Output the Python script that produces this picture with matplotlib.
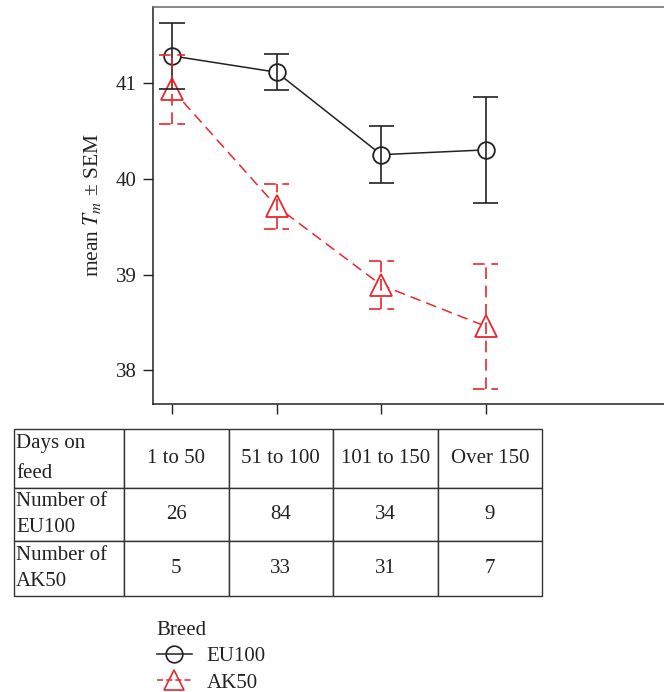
import numpy as np
import matplotlib
matplotlib.use("Agg")
import matplotlib.pyplot as plt
from matplotlib.lines import Line2D

plt.rcParams['font.family'] = ['Liberation Serif', 'DejaVu Serif']
plt.rcParams['mathtext.fontset'] = 'stix'

# data
days = ["1 to 50", "51 to 100", "101 to 150", "Over 150"]
eu_mean = [41.28, 41.11, 40.25, 40.30]
eu_sem = [0.34, 0.19, 0.30, 0.55]
ak_mean = [40.93, 39.71, 38.89, 38.46]
ak_sem = [0.36, 0.23, 0.25, 0.65]
eu_n = [26, 84, 34, 9]
ak_n = [5, 33, 31, 7]
breeds = ["EU100", "AK50"]

RED = '#e8282e'
DARK = '#222222'
W, H = 664, 692

fig = plt.figure(figsize=(W / 100, H / 100), dpi=100)
ax = fig.add_axes([153 / W, 1 - 404 / H, (672 - 153) / W, (404 - 7) / H])

x = np.arange(1, len(days) + 1)
cap = 0.12


def draw_series(mean, sem, color, marker, ms, ls):
    mean = np.array(mean)
    sem = np.array(sem)
    lo, hi = mean - sem, mean + sem
    ax.plot(x, mean, color=color, lw=1.1, linestyle=ls, zorder=2)
    ax.plot(x, mean, linestyle='none', marker=marker, ms=ms, mfc='white',
            mec=color, mew=1.3, zorder=3)
    ax.vlines(x, lo, hi, color=color, lw=1.2, linestyles=ls, zorder=4)
    ax.hlines(lo, x - cap, x + cap, color=color, lw=1.2, linestyles=ls, zorder=4)
    ax.hlines(hi, x - cap, x + cap, color=color, lw=1.2, linestyles=ls, zorder=4)


draw_series(eu_mean, eu_sem, DARK, 'o', 12, '-')
draw_series(ak_mean, ak_sem, RED, '^', 16, (0, (7, 4)))

ax.set_xlim(0.818, 5.78)
ax.set_ylim(37.65, 41.79)
ax.set_xticks(x)
ax.set_xticklabels([])
ax.set_yticks([38, 39, 40, 41])
ax.tick_params(direction='out', length=7, width=1, colors=DARK, labelsize=15,
               pad=5)
ax.set_ylabel(r"mean $T_m$ ± SEM", fontsize=15.5, color=DARK, labelpad=9)
for s in ['left', 'bottom']:
    ax.spines[s].set_color(DARK)
for s in ['top', 'right']:
    ax.spines[s].set_color('#666666')
for s in ax.spines.values():
    s.set_linewidth(1.1)

# table with sample counts
tax = fig.add_axes([14 / W, 1 - 596 / H, (542 - 14) / W, (596 - 429) / H])
tax.axis('off')
rows = [["Days on\nfeed"] + days,
        ["Number of\n" + breeds[0]] + [str(v) for v in eu_n],
        ["Number of\n" + breeds[1]] + [str(v) for v in ak_n]]
col_w = [110, 104.5, 104.5, 104.5, 104.5]
tbl = tax.table(cellText=rows, colWidths=[c / sum(col_w) for c in col_w],
                cellLoc='center', bbox=[0, 0, 1, 1])
tbl.auto_set_font_size(False)
row_h = [59, 53, 55]
for (r, c), cell in tbl.get_celld().items():
    cell.set_height(row_h[r] / sum(row_h))
    cell.set_edgecolor('#333333')
    cell.set_linewidth(1.0)
    t = cell.get_text()
    t.set_fontsize(15)
    t.set_color(DARK)
    if c == 0:
        t.set_ha('left')
        cell.PAD = 0.02
        t.set_linespacing(1.75 if r == 0 else 1.5)

handles = [Line2D([], [], color=DARK, marker='o', ms=12, mfc='none', mew=1.2, lw=1.1),
           Line2D([], [], color=RED, marker='^', ms=15, mfc='none', mew=1.2, lw=1.1,
                  linestyle=(0, (4, 2)))]
leg = fig.legend(handles, breeds, title='Breed', loc='upper left',
                 bbox_to_anchor=(138 / W, 1 - 602 / H), frameon=False,
                 alignment='left', fontsize=15, title_fontsize=15,
                 handlelength=1.7, handletextpad=0.7, labelspacing=0.33)
for t in leg.get_texts():
    t.set_color(DARK)
leg.get_title().set_color(DARK)

fig.savefig("out.png", dpi=100)
